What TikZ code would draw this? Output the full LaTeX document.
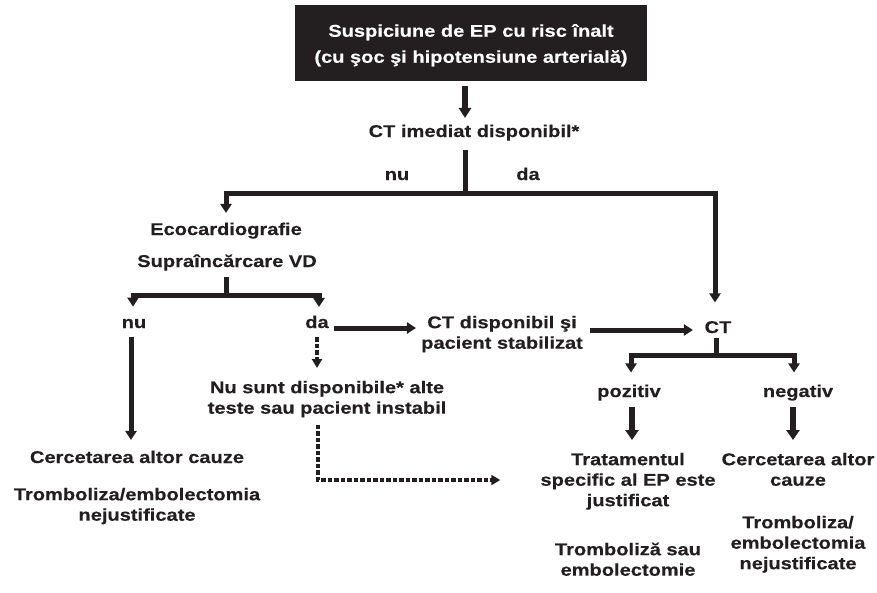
\documentclass[tikz,border=0pt]{standalone}
\usepackage{fontspec}
\setmainfont{Liberation Sans}[FakeStretch=1.18, BoldFeatures={FakeBold=0.3}]
\usetikzlibrary{arrows.meta}
\definecolor{ink}{RGB}{35,31,32}
\newcommand{\fstrut}{\rule{0pt}{14pt}}
\begin{document}
\begin{tikzpicture}[x=1pt,y=-1pt,
  txt/.style={font=\bfseries\fontsize{17pt}{20.5pt}\selectfont, text=ink, inner sep=0pt},
  lbl/.style={txt, anchor=base},
  blk/.style={txt, anchor=north, align=center},
  topbox/.style={fill=ink, text=white, inner sep=0pt, minimum width=352pt, minimum height=76pt,
    font=\bfseries\fontsize{17pt}{26pt}\selectfont, align=center},
  ln/.style={draw=ink, line width=5pt, line join=miter},
  arr/.style={ln, -{Triangle[length=9pt,width=11pt]}},
  arrT/.style={draw=ink, line width=5.5pt, -{Triangle[length=10pt,width=12pt]}},
  arrK/.style={draw=ink, line width=6.5pt, -{Triangle[length=10pt,width=13pt]}},
  dsh/.style={ln, line width=4.5pt, dash pattern=on 4.5pt off 2pt, -{Triangle[length=9pt,width=10pt]}}]
\fill[white] (0,0) rectangle (877,592);
\useasboundingbox (0,0) rectangle (877,592);

% nodes
\node[topbox] (top) at (471,43) {\rule{0pt}{17pt}Suspiciune de EP cu risc înalt\\(cu şoc şi hipotensiune arterială)};
\node[lbl] (ct1) at (474,137) {CT imediat disponibil*};
\node[lbl] (nu1) at (397,180) {nu};
\node[lbl] (da1) at (528,180) {da};
\node[lbl] (eco) at (226,235) {Ecocardiografie};
\node[lbl] (supra) at (227,267) {Supraîncărcare VD};
\node[lbl] (nu2) at (134,328) {nu};
\node[lbl] (da2) at (317,328) {da};
\node[blk] (ctdisp) at (502,314) {\fstrut CT disponibil şi\\pacient stabilizat};
\node[lbl] (ct2) at (718,333) {CT};
\node[blk] (nusunt) at (327,379) {\fstrut Nu sunt disponibile* alte\\teste sau pacient instabil};
\node[lbl] (poz) at (629,397) {pozitiv};
\node[lbl] (neg) at (798,397) {negativ};
\node[lbl] (cercL) at (137,463) {Cercetarea altor cauze};
\node[blk] (trombL) at (137,486) {\fstrut Tromboliza/embolectomia\\nejustificate};
\node[blk] (trat) at (628,451) {\fstrut Tratamentul\\specific al EP este\\justificat};
\node[blk] (cercR) at (798,451) {\fstrut Cercetarea altor\\cauze};
\node[blk] (trombR) at (798,514) {\fstrut Tromboliza/\\embolectomia\\nejustificate};
\node[blk] (trombsau) at (628,541) {\fstrut Tromboliză sau\\embolectomie};

% junctions
\coordinate (j1) at (465,193);
\coordinate (jL) at (226,193);
\coordinate (jR) at (715,193);
\coordinate (j2) at (226,295);
\coordinate (j2L) at (133,295);
\coordinate (j2R) at (319,295);
\coordinate (j3) at (716,355);
\coordinate (j3L) at (631,355);
\coordinate (j3R) at (794,355);
\coordinate (dk) at (318,480);

% connectors
\draw[arrT, shorten <=5pt, shorten >=6.5pt] (top.south -| j1) -- (ct1.north -| j1);
\draw[ln, shorten <=9pt] (ct1.south -| j1) -- (j1);
\draw[arr, shorten >=9.5pt] (j1) -- (jL) -- (eco.north -| jL);
\draw[arr, shorten >=18.5pt] (j1) -- (jR) -- (ct2.north -| jR);
\draw[ln, shorten <=6pt] (supra.south -| j2) -- (j2);
\draw[arr, shorten >=12pt] (j2) -- (j2L) -- (nu2.north -| j2L);
\draw[arr, shorten >=8.5pt] (j2) -- (j2R) -- (da2.north -| j2R);
\coordinate (nuo) at ([xshift=-3pt]nu2.south);
\draw[arr, shorten <=9pt, shorten >=10.5pt] (nuo) -- (nuo |- cercL.north);
\draw[arr, shorten <=5pt, shorten >=5pt] (da2.base east) -- (da2.base east -| ctdisp.west);
\draw[dsh, shorten <=9pt, shorten >=11pt] (da2.south) -- (da2.south |- nusunt.north);
\draw[dsh, shorten <=7.5pt, shorten >=40pt] (nusunt.south -| dk) -- (dk) -- (dk -| trat.west);
\path ([yshift=3pt]ct2.base west) coordinate (ctin);
\draw[arr, shorten <=7pt, shorten >=11.5pt] (ctdisp.east |- ctin) -- (ctin);
\draw[ln, shorten <=5pt] (ct2.south -| j3) -- (j3);
\draw[arr, shorten >=12pt] (j3) -- (j3L) -- (poz.north -| j3L);
\draw[arr, shorten >=12pt] (j3) -- (j3R) -- (neg.north -| j3R);
\coordinate (pzo) at ([xshift=3pt]poz.south);
\draw[arrK, shorten <=6.5pt, shorten >=11pt] (pzo) -- (pzo |- trat.north);
\coordinate (ngo) at ([xshift=-5pt]neg.south);
\draw[arrK, shorten <=6.5pt, shorten >=11pt] (ngo) -- (ngo |- cercR.north);
\end{tikzpicture}
\end{document}
